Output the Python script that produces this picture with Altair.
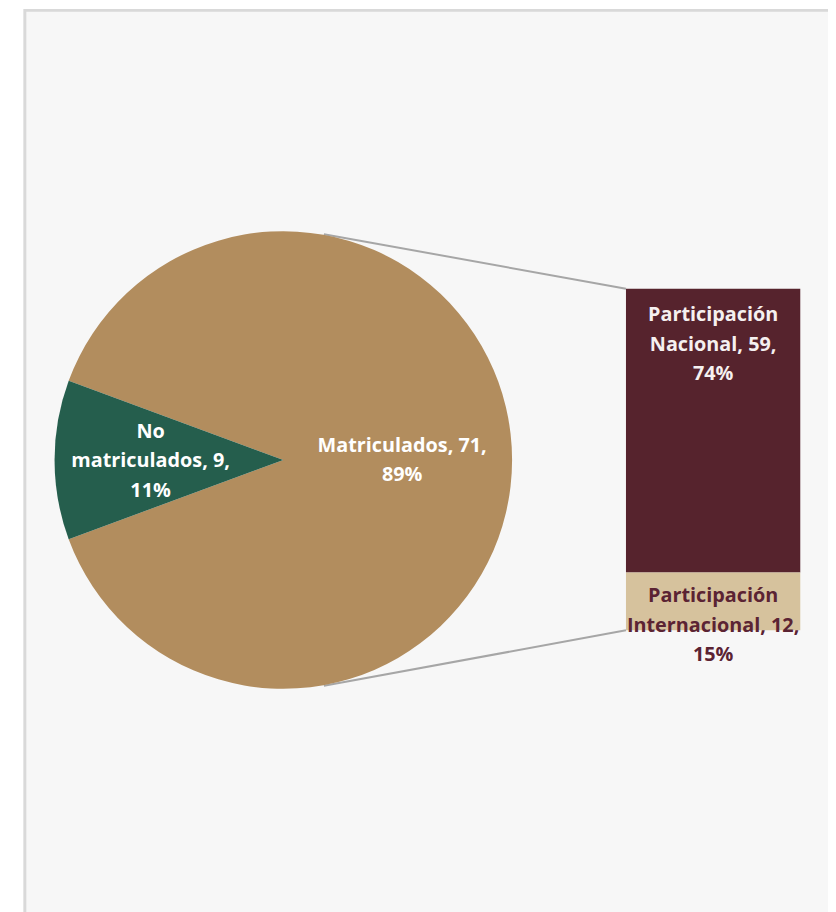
import altair as alt
import pandas as pd

# ---- data ----
pie_cats = ["Matriculados", "No matriculados"]
pie_vals = [71, 9]
pie_pcts = [89, 11]

bar_cats = ["Participación Nacional", "Participación Internacional"]
bar_vals = [59, 12]
bar_pcts = [74, 15]

pie_colors = ["#b28d5e", "#255e4d"]
bar_colors = ["#56232d", "#d6c29d"]


def wrap(name):
    return name.replace(" ", "\n", 1)


pie_df = pd.DataFrame({
    "cat": pie_cats,
    "value": pie_vals,
    "ord": list(range(len(pie_cats))),
    "label": [f"{wrap(c)}, {v},\n{p}%" for c, v, p in zip(pie_cats, pie_vals, pie_pcts)],
})
bar_df = pd.DataFrame({
    "cat": bar_cats,
    "value": bar_vals,
    "ord": [1, 0],
    "label": [f"{wrap(c)}, {v},\n{p}%" for c, v, p in zip(bar_cats, bar_vals, bar_pcts)],
})

# ---- layout constants (chart pixel coords) ----
W, H = 828, 904
CX, CY, R = 278, 452, 231
start = 5.06582  # radians, so the small slice is centred on the left
theta_scale = alt.Scale(domain=[0, sum(pie_vals)], range=[start, start + 6.283185])
y_scale = alt.Scale(domain=[0, sum(bar_vals)], range=[624, 279])
BX0, BX1 = 624, 800
BXC = (BX0 + BX1) / 2
FONT = "Open Sans"
FS = 20
LH = 29.5

frame = alt.Chart(pd.DataFrame({"a": [0]})).mark_rect(
    fill="#f7f7f7", stroke="#d9d9d9", strokeWidth=3
).encode(x=alt.value(17), x2=alt.value(840), y=alt.value(-2), y2=alt.value(920))

pie = alt.Chart(pie_df).mark_arc(outerRadius=R, stroke=None).encode(
    theta=alt.Theta("value:Q", stack=True, scale=theta_scale),
    order=alt.Order("ord:Q"),
    color=alt.Color("cat:N", scale=alt.Scale(domain=pie_cats, range=pie_colors), legend=None),
    x=alt.value(CX), y=alt.value(CY),
)


def pie_text(cat, radius, dy):
    return alt.Chart(pie_df).transform_calculate(
        label=f"datum.cat == '{cat}' ? datum.label : ''"
    ).mark_text(
        radius=radius, font=FONT, fontWeight="bold", fontSize=FS, color="#ffffff",
        lineBreak="\n", lineHeight=LH, align="center", baseline="middle", dy=dy,
    ).encode(
        theta=alt.Theta("value:Q", stack=True, scale=theta_scale),
        order=alt.Order("ord:Q"),
        text="label:N",
        x=alt.value(CX), y=alt.value(CY),
    )


stacked = alt.Chart(bar_df).transform_stack(
    stack="value", groupby=[], as_=["s0", "s1"], sort=[alt.SortField("ord", order="ascending")]
)

bar = stacked.mark_rect(stroke=None).encode(
    y=alt.Y("s0:Q", scale=y_scale, axis=None),
    y2="s1:Q",
    color=alt.Color("cat:N", scale=alt.Scale(domain=bar_cats, range=bar_colors), legend=None),
    x=alt.value(BX0), x2=alt.value(BX1),
)


def bar_text(cat, color, dy):
    return stacked.transform_filter(alt.datum.cat == cat).mark_text(
        font=FONT, fontWeight="bold", fontSize=FS, color=color,
        lineBreak="\n", lineHeight=LH, align="center", baseline="middle", dy=dy,
    ).encode(
        y=alt.Y("s1:Q", scale=y_scale, axis=None),
        text="label:N",
        x=alt.value(BXC),
    )


def connector(edge, px, py):
    return alt.Chart(pd.DataFrame({"edge": [edge]})).mark_rule(
        color="#a6a6a6", strokeWidth=2
    ).encode(
        y=alt.Y("edge:Q", scale=y_scale, axis=None),
        x=alt.value(BX0),
        x2=alt.value(px),
        y2=alt.value(py),
    )


chart = alt.layer(
    frame,
    connector(sum(bar_vals), 319, 224),
    connector(0, 319, 680),
    pie,
    pie_text("Matriculados", 120, -14),
    pie_text("No matriculados", 134, -28),
    bar,
    bar_text("Participación Nacional", "#f5f0f0", 27),
    bar_text("Participación Internacional", "#5b2333", 24),
).resolve_scale(color="independent").properties(
    width=W, height=H, padding=0, autosize=alt.AutoSizeParams(type="none"),
    background="#ffffff",
).configure_view(stroke=None)

chart.save("out.html", embed_options={"renderer": "svg", "actions": False})
